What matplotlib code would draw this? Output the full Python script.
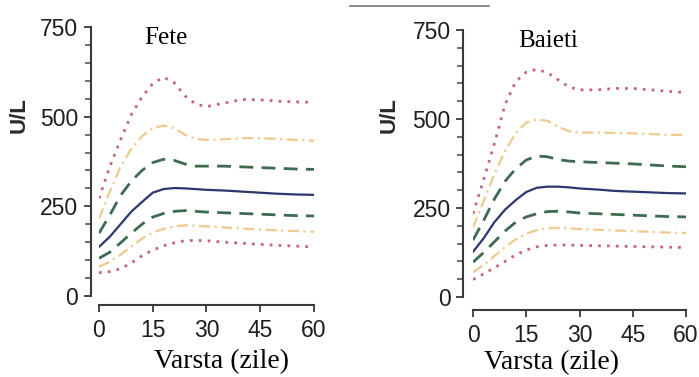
import matplotlib
matplotlib.use('Agg')
import matplotlib.pyplot as plt
from matplotlib.ticker import MultipleLocator
from matplotlib.lines import Line2D

# age in days
zile = [0, 3, 6, 9, 12, 15, 18, 21, 24, 27, 30, 35, 40, 45, 50, 55, 60]

# percentile curves, girls (U/L)
fete_p97 = [272, 360, 435, 505, 555, 592, 610, 595, 558, 535, 528, 538, 548, 547, 543, 541, 540]
fete_p90 = [215, 290, 360, 410, 445, 468, 475, 468, 450, 438, 435, 437, 440, 440, 438, 435, 433]
fete_p75 = [175, 225, 280, 320, 350, 372, 381, 378, 368, 362, 362, 362, 360, 358, 356, 354, 353]
fete_p50 = [137, 165, 200, 235, 262, 288, 298, 301, 300, 298, 296, 294, 291, 288, 285, 283, 282]
fete_p25 = [105, 122, 148, 175, 200, 220, 230, 236, 238, 236, 234, 232, 230, 228, 226, 224, 223]
fete_p10 = [82, 95, 115, 138, 160, 177, 187, 194, 197, 196, 194, 191, 188, 185, 183, 181, 179]
fete_p3 = [65, 68, 76, 92, 112, 128, 140, 148, 154, 155, 154, 150, 147, 144, 141, 139, 137]

# percentile curves, boys (U/L)
baieti_p97 = [234, 330, 430, 540, 605, 632, 640, 630, 610, 590, 582, 582, 586, 586, 582, 578, 574]
baieti_p90 = [195, 270, 345, 410, 460, 490, 499, 495, 478, 466, 462, 462, 461, 460, 458, 456, 455]
baieti_p75 = [160, 215, 275, 325, 360, 385, 396, 394, 386, 382, 380, 378, 376, 374, 371, 368, 366]
baieti_p50 = [127, 165, 210, 245, 272, 295, 307, 310, 310, 308, 305, 302, 298, 296, 294, 292, 291]
baieti_p25 = [98, 125, 155, 185, 210, 225, 234, 240, 241, 239, 236, 234, 232, 230, 228, 226, 225]
baieti_p10 = [70, 90, 115, 140, 162, 178, 188, 193, 194, 193, 191, 189, 187, 185, 183, 181, 180]
baieti_p3 = [49, 65, 82, 100, 118, 132, 141, 145, 146, 146, 145, 144, 143, 142, 141, 140, 139]

x_ticks = [0, 15, 30, 45, 60]
y_ticks = [0, 250, 500, 750]

red = '#c4677b'
yellow = '#eecb8c'
green = '#3d6b52'
navy = '#2c3670'

styles = [
    (red, (0, (1, 2.2)), 2.0),
    (yellow, (0, (5, 2, 1, 2)), 1.6),
    (green, (0, (5, 3)), 2.0),
    (navy, '-', 1.6),
    (green, (0, (5, 3)), 2.0),
    (yellow, (0, (5, 2, 1, 2)), 1.6),
    (red, (0, (1, 2.2)), 2.0),
]

sans = 'Liberation Sans'
serif = 'Liberation Serif'

fig = plt.figure(figsize=(6.99, 3.77), dpi=100)


def panel(rect, curves, title, title_x, left_out, bottom_out):
    ax = fig.add_axes(rect)
    for y, (c, ls, lw) in zip(curves, styles):
        ax.plot(zile, y, color=c, linestyle=ls, linewidth=lw)
    ax.set_xlim(0, 60)
    ax.set_ylim(0, 750)
    ax.set_xticks(x_ticks)
    ax.set_yticks(y_ticks)
    ax.yaxis.set_minor_locator(MultipleLocator(50))
    for s in ['top', 'right']:
        ax.spines[s].set_visible(False)
    ax.spines['left'].set_position(('outward', left_out))
    ax.spines['bottom'].set_position(('outward', bottom_out))
    ax.spines['left'].set_bounds(0, 750)
    ax.spines['bottom'].set_bounds(0, 60)
    for s in ['left', 'bottom']:
        ax.spines[s].set_color('#3a3a3a')
        ax.spines[s].set_linewidth(1.5)
    ax.tick_params(axis='both', which='major', length=5, width=1.3,
                   color='#3a3a3a', labelsize=16.5, labelcolor='#1e1e1e')
    ax.tick_params(axis='x', which='major', pad=5)
    ax.tick_params(axis='y', which='major', pad=4)
    ax.tick_params(axis='y', which='minor', length=4, width=1.2, color='#555555')
    for lab in ax.get_xticklabels() + ax.get_yticklabels():
        lab.set_fontfamily(sans)
    ax.text(title_x, 0.96, title, transform=ax.transAxes, ha='center', va='center',
            fontsize=18, family=serif)
    return ax


ax1 = panel([0.1416, 0.2149, 0.3076, 0.7135],
            [fete_p97, fete_p90, fete_p75, fete_p50, fete_p25, fete_p10, fete_p3],
            'Fete', 0.31, 6, 6.5)
ax2 = panel([0.6767, 0.2122, 0.3047, 0.708],
            [baieti_p97, baieti_p90, baieti_p75, baieti_p50, baieti_p25, baieti_p10, baieti_p3],
            'Baieti', 0.352, 7, 9.4)

# axis titles
for xc, yc in [(0.027, 0.695), (0.556, 0.695)]:
    fig.text(xc, yc, 'U/L', rotation=90, ha='center', va='center',
             fontsize=16, fontweight='bold', color='#2a2a2a', family=sans)
fig.text(0.317, 0.042, 'Varsta (zile)', ha='center', va='center', fontsize=20, family=serif)
fig.text(0.789, 0.037, 'Varsta (zile)', ha='center', va='center', fontsize=20, family=serif)

# thin rule at the top
fig.add_artist(Line2D([0.5, 0.70], [0.985, 0.985], transform=fig.transFigure,
                      color='#777777', linewidth=1.2))

fig.savefig('out.png', dpi=100)
